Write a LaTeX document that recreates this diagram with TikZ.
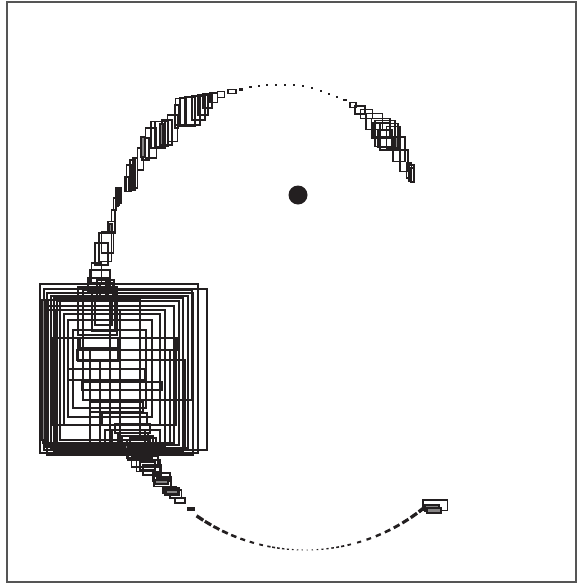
\documentclass[tikz,border=0pt]{standalone}
\usepackage{tikz}
\definecolor{ink}{HTML}{231F20}
\definecolor{rim}{HTML}{555555}

\begin{document}
\begin{tikzpicture}[
  x=0.03cm, y=-0.03cm,
  box/.style={draw=ink, line width=1pt},
  slab/.style={box, fill=ink!55},
  speck/.style={fill=ink},
  rim/.style={draw=rim, line width=0.9pt},
]
\useasboundingbox (0,0) rectangle (579,584);
\draw[rim] (7,2) rectangle (576,582);
% centre
\fill[ink] (298,195) circle[radius=9.5];
% top dots
\foreach \px/\py/\s in {241/89.5/3.2, 250.7/87/2.6, 259/86/2, 267/85/2, 276/84.7/2, 285/84.7/2.2, 294/85/2, 303/86/2.2, 312/88/2, 321/91/1.5, 329/94/2, 337/97/2.5, 345/100/3.4} {
  \fill[speck] ({\px-\s/2},{\py-0.4*\s}) rectangle ({\px+\s/2},{\py+0.4*\s});
}
% upper right arm
\foreach \xa/\ya/\xb/\yb in {350/102.7/356/107.3, 355/106/365/114, 360.7/109.3/372.7/118.3, 366/113.3/382.7/129.3, 371.7/118.3/390/138.3, 373/123/390/137, 375/120.7/395/146.7, 380/123.3/398/150, 378/130/392/147, 386.7/126.7/400/148.3, 393/137/405/161.7, 400/150/408/171.7, 406.7/163/411.7/178, 409/165/414/181.7, 411/168/414.7/182.7} {
  \draw[box] (\xa,\ya) rectangle (\xb,\yb);
}
\draw[slab] (395,137) rectangle (398,148);
% upper left arm
\foreach \xa/\ya/\xb/\yb in {228/89.7/236/93.4, 217.7/91.7/224.3/97.3, 210/93/217.7/102.7, 203/94/212/108, 198/95/208/115, 192/96/205/120, 185/96.7/200/125, 180/97.7/195/126.7, 175.7/98.3/186.7/125, 175/105/178.3/128, 167.7/115/177.7/141.7, 162/120/172/145, 155/121.7/168/146.7, 151/121.7/165/148, 145.7/128/156.7/158, 142/138/149/160, 137.7/148/143.3/170, 133/158/137.7/188, 130/160/135/190, 126.7/165/131.7/191.7, 125/177/129/191.7, 118/188/121/203, 115.7/188/118.3/206.7, 113.7/198/116/210, 111.7/210/115/221.7, 108/221.7/115/233, 101.7/231.7/113.3/253, 99/233/111.7/261.7, 95/243/108/265, 91.7/263/101.7/283, 90/270/110/283} {
  \draw[box] (\xa,\ya) rectangle (\xb,\yb);
}
\foreach \xa/\ya/\xb/\yb in {141/137/145/157, 160/124/163/145, 117/189/119/205, 109/224/112/232} {
  \draw[slab] (\xa,\ya) rectangle (\xb,\yb);
}
% cluster
\foreach \xa/\ya/\xb/\yb in {40/284/198/453, 44/289/207/450, 47/293/193/455, 51/296/188/448, 54/298/183/451, 57/301/179/445, 43/306/174/443, 46/310/165/447, 64/314/160/425, 68/320/152/417, 73/330/146/408, 52/338/176/425, 80/338/177/350, 77/350/120/360, 68/369/145/380, 82/382/162/390, 90/402/143/412, 102/413/147/425, 115/424/150/433, 56/310/120/452, 60/300/140/440, 83/290/192/400, 90/350/170/445, 100/360/185/450, 48/300/110/445, 105/430/160/455, 88/278/110/291, 78/287/117/335, 92/291/115/331, 95/300/112/325, 78/338/118/350, 78/348/118/361, 97/280/108/300, 100/283/113/296, 106/280/114/300, 118/433/148/455, 122/436/153/452, 127/440/150/458, 112/430/145/448, 130/438/156/447} {
  \draw[box] (\xa,\ya) rectangle (\xb,\yb);
}
\draw[slab] (42,300) rectangle (45,440);
\draw[slab] (124,445) rectangle (150,449);
% lower left arm
\foreach \xa/\ya/\xb/\yb in {125/443/150/452, 128/447/152/460, 131.7/456.7/158/467, 136.7/460/160/471.7, 140/462/155/470, 143/465/161.7/475, 153/473/170/481.7, 154/476.7/171/486.7, 157/478/168/484, 163/486.7/176.7/493, 165/488/179/495, 170/490/181.7/498, 175/498/185/503} {
  \draw[box] (\xa,\ya) rectangle (\xb,\yb);
}
\draw[slab] (155,480) rectangle (168,484);
\draw[slab] (166,490) rectangle (178,494);
\fill[speck] (186.5,506.5) rectangle (195,510.5);
% lower arc
\foreach \a in {125,122,...,104,101.5,100,...,79,77,74,...,53} {
  \pgfmathsetmacro\dd{abs(\a-90)}
  \pgfmathsetmacro\len{(1+0.2*\dd)*0.303}
  \pgfmathsetmacro\lw{(0.9+0.07*\dd)*0.85}
  \draw[ink, line width=\lw pt] ({305+189*cos(\a)},{361+189*sin(\a)}) -- ({305+189*cos(\a-\len)},{361+189*sin(\a-\len)});
}
% lower right end
\draw[box] (423,500) rectangle (447.7,510.7);
\draw[slab] (425,505) rectangle (439,511.5);
\draw[slab] (427,508) rectangle (441,513);
\end{tikzpicture}
\end{document}
